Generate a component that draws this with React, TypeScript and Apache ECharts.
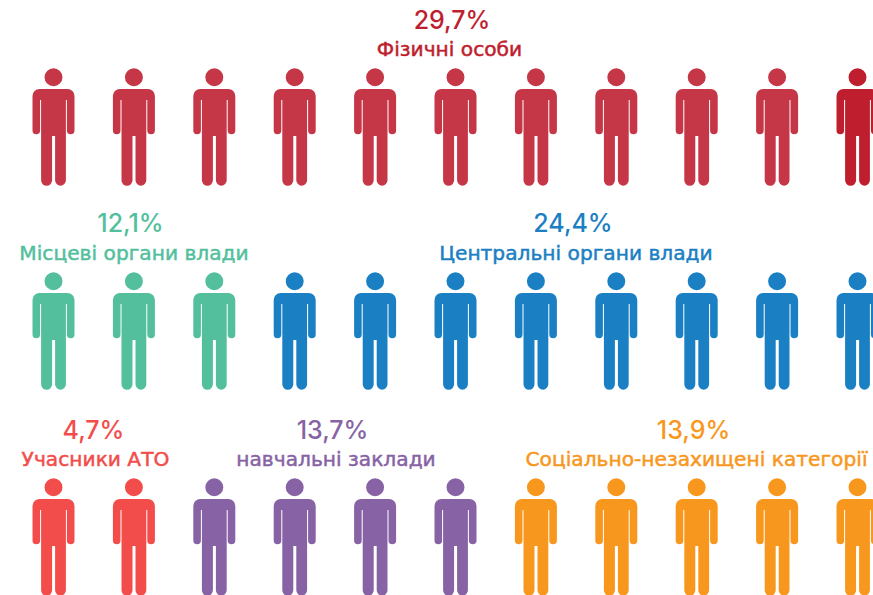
import React, { useEffect, useRef } from "react";
import * as echarts from "echarts";

const groupNames = ["Фізичні особи", "Місцеві органи влади", "Центральні органи влади", "Учасники АТО", "навчальні заклади", "Соціально-незахищені категорії"];
const shares = ["29,7%", "12,1%", "24,4%", "4,7%", "13,7%", "13,9%"];
const peopleCounts = [11, 3, 8, 2, 4, 5];
const colors = ["#C53646", "#53BF9D", "#1B80C3", "#F24D4A", "#8763A5", "#F8971D"];
const accentColor = "#BE1E2D";
const textColors = ["#BE1E2D", "#53BF9D", "#1B80C3", "#F24D4A", "#8763A5", "#F8971D"];
const shareCenters: [number, number][] = [[452, 20], [130.5, 222.5], [573, 222.5], [93.5, 430], [332.5, 430], [693.5, 430]];
const nameCenters: [number, number][] = [[449.5, 49], [134, 252.5], [576, 252.5], [95.5, 458.5], [336, 458.5], [696.5, 458.5]];
const perRow = 11;
const rowOffsets = [0, 204, 410];

const personPath =
  "M12 9.2A9 9 0 1 1 30 9.2A9 9 0 1 1 12 9.2Z " +
  "M7 21H35A7 7 0 0 1 42 28V62.3A3.7 3.7 0 0 1 34.4 62.3V32H33.4V112.2A5.3 5.3 0 0 1 22.6 112.2V68H19.6V112.2A5.3 5.3 0 0 1 8.6 112.2V32H7.6V62.3A3.7 3.7 0 0 1 0 62.3V28A7 7 0 0 1 7 21Z";

export default function App() {
  const ref = useRef<HTMLDivElement>(null);
  useEffect(() => {
    document.body.style.margin = "0";
    const chart = echarts.init(ref.current!, undefined, { renderer: "svg" });
    let cursor = 0;
    const series = groupNames.map((name, g) => {
      const data: any[] = [];
      for (let i = 0; i < peopleCounts[g]; i++) {
        const col = cursor % perRow;
        const row = rowOffsets[Math.floor(cursor / perRow)];
        const isAccent = g === 0 && i === peopleCounts[g] - 1;
        data.push(isAccent ? { value: [col, row], itemStyle: { color: accentColor } } : [col, row]);
        cursor++;
      }
      return {
        type: "scatter" as const,
        name,
        data,
        symbol: "path://" + personPath,
        symbolSize: [42, 117.5],
        clip: false,
        silent: true,
        itemStyle: { color: colors[g], opacity: 1 },
      };
    });
    const shareText = (t: string, c: [number, number], fill: string) => ({
      type: "text" as const,
      x: c[0],
      y: c[1],
      style: { text: t, fill, font: `500 25px Inter, "Noto Sans", sans-serif`, align: "center", verticalAlign: "middle" },
    });
    const nameText = (t: string, c: [number, number], fill: string) => ({
      type: "text" as const,
      x: c[0],
      y: c[1],
      style: {
        text: t,
        fill,
        stroke: fill,
        lineWidth: 0.5,
        font: `400 20.2px "DejaVu Sans", sans-serif`,
        align: "center",
        verticalAlign: "middle",
      },
    });
    chart.setOption({
      animation: false,
      backgroundColor: "#ffffff",
      grid: { left: 53.5, top: 127, width: 804, height: 410 },
      xAxis: { type: "value", min: 0, max: 10, show: false },
      yAxis: { type: "value", min: 0, max: 410, inverse: true, show: false },
      series,
      graphic: groupNames.flatMap((n, g) => [
        shareText(shares[g], shareCenters[g], textColors[g]),
        nameText(n, nameCenters[g], textColors[g]),
      ]),
    });
    return () => chart.dispose();
  }, []);
  return <div ref={ref} style={{ width: 873, height: 595, overflow: "hidden" }} />;
}
